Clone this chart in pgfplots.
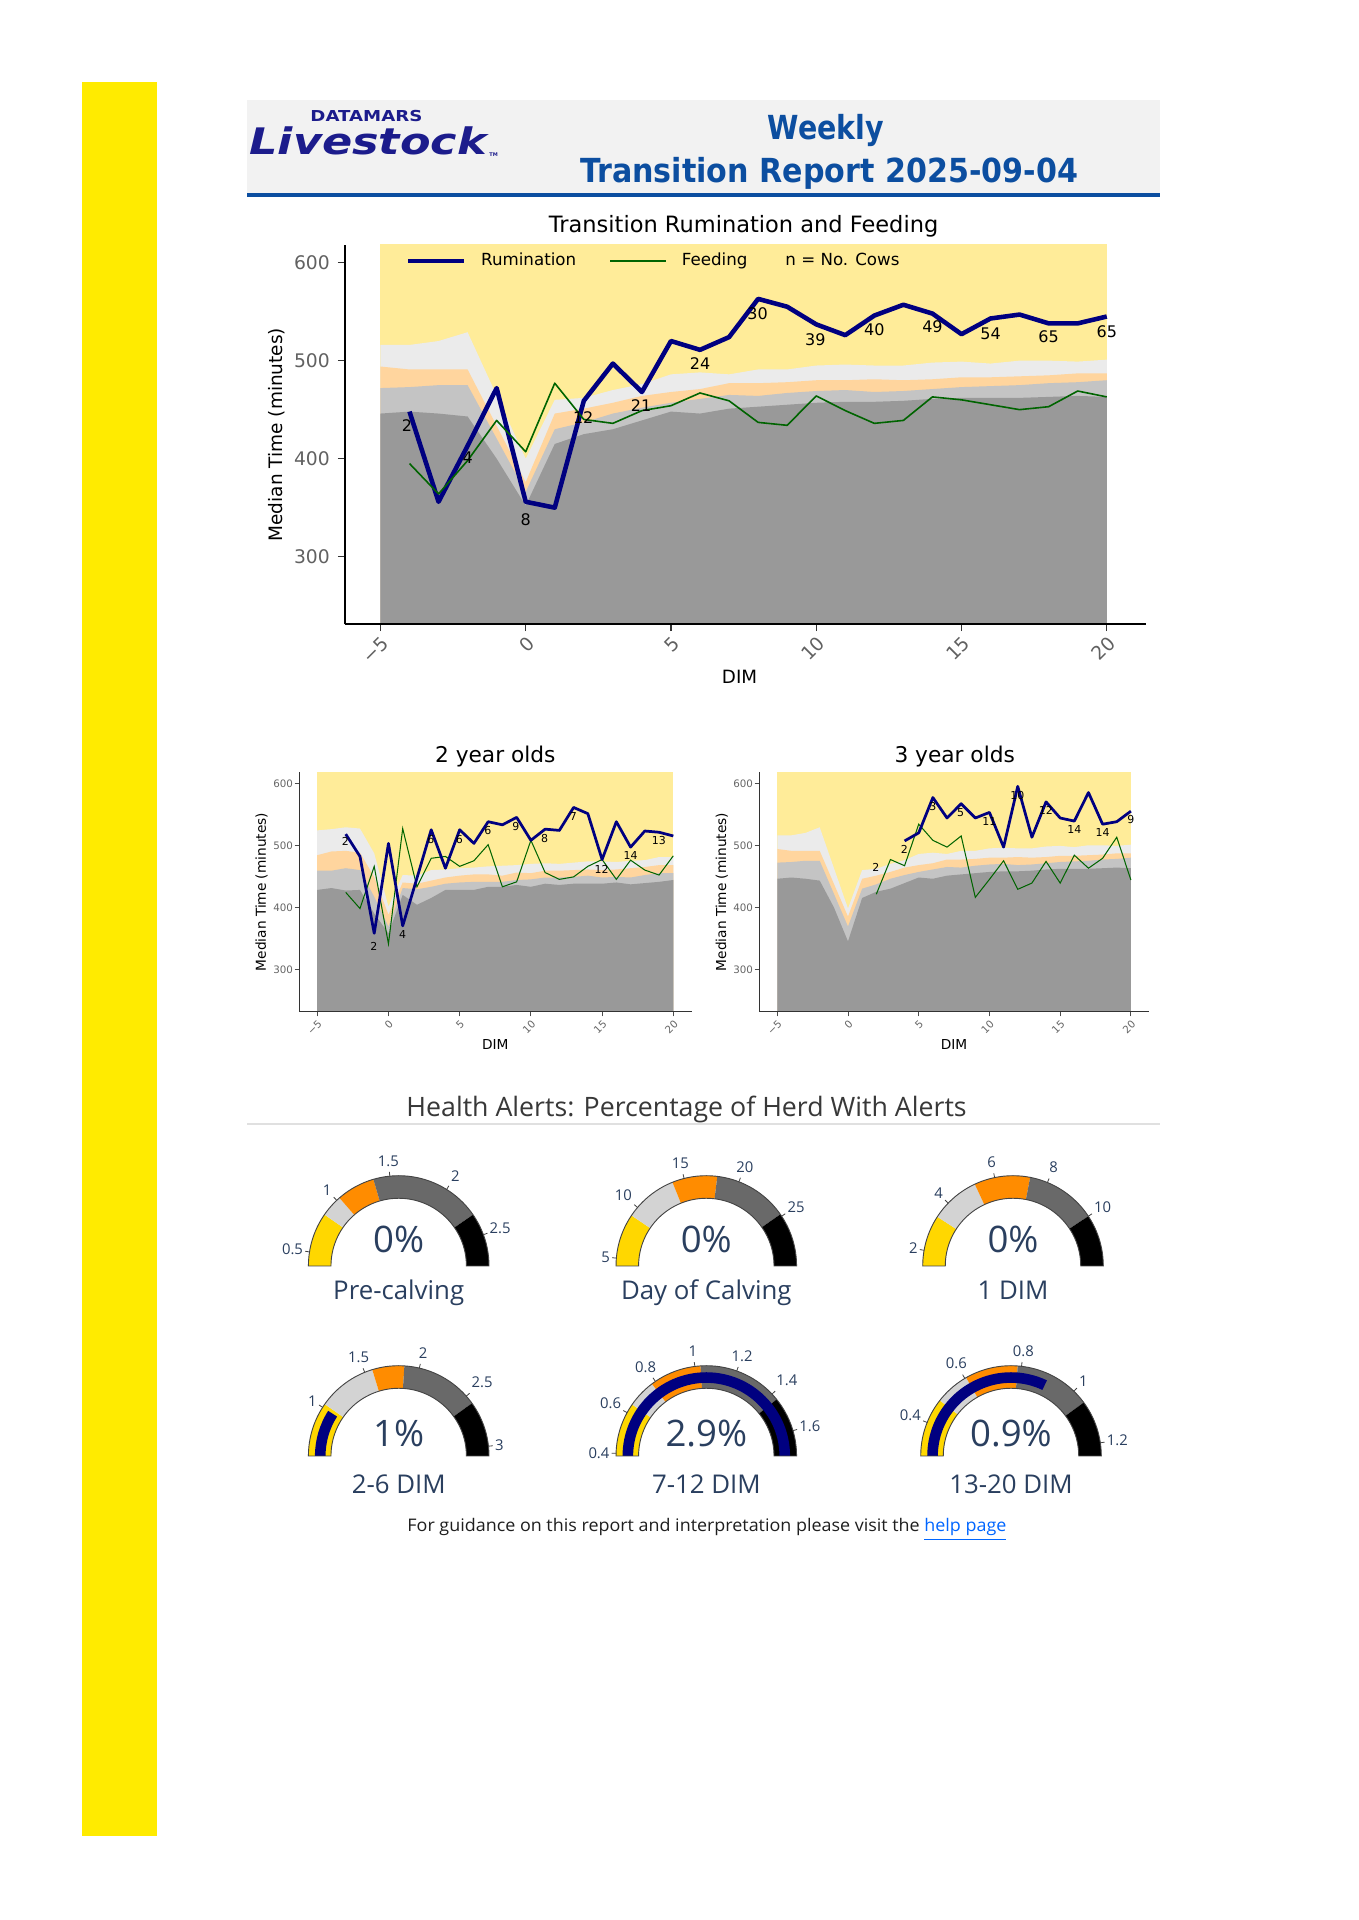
\documentclass[border=0pt]{standalone}
\usepackage{fontspec}
\usepackage{pgfplots}
\pgfplotsset{compat=1.18}
\setmainfont{DejaVu Sans}
\newfontfamily\os{Open Sans}
\definecolor{pageyellow}{RGB}{255,235,0}
\definecolor{hdrgray}{RGB}{242,242,242}
\definecolor{hdrblue}{RGB}{12,78,160}
\definecolor{logoblue}{RGB}{28,28,140}
\definecolor{bYel}{RGB}{255,236,153}
\definecolor{bLG}{RGB}{235,235,235}
\definecolor{bPeach}{RGB}{255,213,158}
\definecolor{bMG}{RGB}{196,196,196}
\definecolor{bDG}{RGB}{153,153,153}
\definecolor{rum}{RGB}{0,0,128}
\definecolor{feed}{RGB}{0,100,0}
\definecolor{plotlytxt}{HTML}{2A3F5F}
\definecolor{gGold}{HTML}{FFD700}
\definecolor{gLGray}{HTML}{D3D3D3}
\definecolor{gOrange}{HTML}{FF8C00}
\definecolor{gDim}{HTML}{696969}
\definecolor{gNavy}{HTML}{000080}
\definecolor{gOut}{HTML}{444444}
\definecolor{linkblue}{RGB}{0,102,255}
\def\U{0.4378pt}
\def\gRo{39.53pt}
\def\gRi{29.65pt}
\def\gRt{41.43pt}
\def\gBi{32.02pt}
\def\gBo{36.67pt}
\tikzset{nl/.style={font=\fontsize{4.8}{5}\selectfont, inner sep=0pt}}
\newcommand\gsector[5]{\fill[#5] (#1:#3) arc[start angle=#1, end angle=#2, radius=#3] -- (#2:#4) arc[start angle=#2, end angle=#1, radius=#4] -- cycle;}
\newcommand\gauge[9]{%
 \begin{scope}[shift={({#1*\U},{(1920-#2)*\U})}]
  \pgfmathsetmacro\gA{180*(#4-#5)/(#4-#3)}%
  \pgfmathsetmacro\gB{180*(#4-#6)/(#4-#3)}%
  \pgfmathsetmacro\gC{180*(#4-#7)/(#4-#3)}%
  \pgfmathsetmacro\gD{180*(#4-#8)/(#4-#3)}%
  \gsector{180}{\gA}{\gRo}{\gRi}{gGold}
  \gsector{\gA}{\gB}{\gRo}{\gRi}{gLGray}
  \gsector{\gB}{\gC}{\gRo}{\gRi}{gOrange}
  \gsector{\gC}{\gD}{\gRo}{\gRi}{gDim}
  \gsector{\gD}{0}{\gRo}{\gRi}{black}
  \pgfmathsetmacro\gE{max(0,180*(#4-#9)/(#4-#3))}%
  \pgfmathtruncatemacro\gShow{#9>#3}%
  \ifnum\gShow=1 \gsector{180}{\gE}{\gBo}{\gBi}{gNavy}\fi
  \draw[gOut, line width=0.4pt] (180:\gRo) arc[start angle=180,end angle=0,radius=\gRo] -- (0:\gRi) arc[start angle=0,end angle=180,radius=\gRi] -- cycle;
 \end{scope}}
\newcommand\gticks[5]{%
 \begin{scope}[shift={({#1*\U},{(1920-#2)*\U})}]
 \foreach \v in {#5}{%
   \pgfmathsetmacro\th{180*(#4-\v)/(#4-#3)}%
   \pgfmathsetmacro\an{\th+180}%
   \draw[gOut, line width=0.35pt] (\th:\gRo) -- (\th:\gRt);
   \node[anchor=\an, inner xsep=0.8pt, inner ysep=2.2pt, text=plotlytxt, font=\os\fontsize{6.5}{7}\selectfont] at (\th:\gRt) {\v};
 }
 \end{scope}}
\newcommand\gtext[4]{%
 \node[anchor=base, text=plotlytxt, font=\os\fontsize{16}{18}\selectfont, inner sep=0pt] at ({#1*\U},{(1920-#2)*\U}) {#3};
 \node[anchor=base, text=plotlytxt, font=\os\fontsize{11.3}{13}\selectfont, inner sep=0pt] at ({#1*\U},{(1920-#2-46.5)*\U}) {#4};}
\pgfplotsset{
 common/.style={
  scale only axis,
  axis x line*=bottom, axis y line*=left,
  axis on top,
  xtick={-5,0,5,10,15,20}, xticklabels={−5,0,5,10,15,20},
  ytick={300,400,500,600},
  tick align=outside,
  minor tick num=0,
  /pgf/number format/assume math mode=true,
  xticklabel style={rotate=45, anchor=north east},
  ylabel={Median Time (minutes)}, xlabel={DIM},
 },
 sub/.style={common,
  height=104.81pt, xmin=-6.26, xmax=21.29, ymin=231.6, ymax=617.7,
  axis line style={-, black!80, line width=0.5pt},
  major tick length=2pt, tick style={black!70, line width=0.4pt},
  ticklabel style={font=\fontsize{4.5}{5}\selectfont, text=black!60},
  xticklabel style={inner sep=0.8pt},
  yticklabel style={inner sep=0.6pt},
  ylabel style={at={(axis description cs:-0.096,0.5)}, anchor=center, font=\fontsize{6}{7}\selectfont},
  xlabel style={at={(axis description cs:0.4995,-0.139)}, anchor=center, font=\fontsize{6}{7}\selectfont},
 },
}
\begin{document}
\begin{tikzpicture}[x=\U, y=\U]
\fill[white] (0,0) rectangle (1359,1920);
\useasboundingbox (0,0) rectangle (1359,1920);
% side bar
\fill[pageyellow] (82,{1920-82}) rectangle (157,{1920-1836});
% header
\fill[hdrgray] (247,{1920-100}) rectangle (1160,{1920-193});
\fill[hdrblue] (247,{1920-193}) rectangle (1160,{1920-197.5});
\node[anchor=base west, inner sep=0pt, text=logoblue, font=\bfseries\fontsize{6.6}{7}\selectfont] at (310,{1920-121.7}) {\resizebox{49pt}{\height}{DATAMARS}};
\node[anchor=base west, inner sep=0pt, text=logoblue, font=\bfseries\itshape\fontsize{16}{18}\selectfont] at (249,{1920-155}) {\resizebox{104pt}{\height}{Livestock}};
\node[anchor=base west, inner sep=0pt, text=logoblue, font=\bfseries\fontsize{2.2}{3}\selectfont] at (489,{1920-157}) {TM};
\node[anchor=base, inner sep=0pt, text=hdrblue, font=\bfseries\fontsize{14.5}{16}\selectfont] at (826,{1920-140}) {\resizebox{50.9pt}{\height}{Weekly}};
\node[anchor=base, inner sep=0pt, text=hdrblue, font=\bfseries\fontsize{14.5}{16}\selectfont] at (829,{1920-183}) {\resizebox{218pt}{\height}{Transition Report 2025-09-04}};

% chart titles
\node[anchor=base, inner sep=0pt, font=\fontsize{9.85}{10}\selectfont] at (743.6,{1920-232.7}) {Transition Rumination and Feeding};
\node[anchor=base, inner sep=0pt, font=\fontsize{9.5}{10}\selectfont] at (495.3,{1920-762.7}) {2 year olds};
\node[anchor=base, inner sep=0pt, font=\fontsize{9.5}{10}\selectfont] at (954.7,{1920-762.7}) {3 year olds};

% main chart
\begin{axis}[common,
 at={({344.7*\U},{1295.7*\U})}, anchor=south west,
 width=350.68pt, height=166.06pt,
 xmin=-6.23, xmax=21.34, ymin=231, ymax=618,
 axis line style={-, black, line width=0.9pt},
 major tick length=3pt, tick style={black!80, line width=0.5pt},
 ticklabel style={font=\fontsize{8.2}{9}\selectfont, text=black!62},
 xticklabel style={inner sep=1pt},
 ylabel style={at={(axis description cs:-0.085,0.5)}, anchor=center, font=\fontsize{8.1}{9}\selectfont},
 xlabel style={at={(axis description cs:0.493,-0.139)}, anchor=center, font=\fontsize{8}{9}\selectfont},
 legend columns=3,
 legend image code/.code={\draw[#1] (0pt,0pt) -- (24.5pt,0pt); \path (29pt,0pt);},
 legend style={at={(axis description cs:0.0757,0.958)}, anchor=west, draw=none, fill=none, inner sep=0pt,
   font=\fontsize{7.3}{8}\selectfont, column sep=0pt,
   /tikz/every even column/.append style={column sep=12.6pt}},
]
\addplot[forget plot, draw=none, fill=bYel] coordinates {(-5,630) (20,630)} \closedcycle;
\addplot[forget plot, draw=none, fill=bLG] coordinates {(-5,516) (-4,516) (-3,520) (-2,529) (0,400) (1,460) (2,462) (3,470) (4,476) (5,486) (6,488) (7,486) (8,491) (9,491) (10,495) (11,496) (12,495) (13,495) (14,498) (15,499) (16,497) (17,500) (18,500) (19,499) (20,501)} \closedcycle;
\addplot[forget plot, draw=none, fill=bPeach] coordinates {(-5,494) (-4,491) (-3,491) (-2,491) (0,376) (1,446) (2,451) (3,457) (4,464) (5,468) (6,471) (7,477) (8,477) (9,478) (10,480) (11,480) (12,481) (13,480) (14,481) (15,483) (16,483) (17,484) (18,485) (19,487) (20,487)} \closedcycle;
\addplot[forget plot, draw=none, fill=bMG] coordinates {(-5,472) (-4,473) (-3,475) (-2,475) (0,366) (1,430) (2,437) (3,446) (4,452) (5,457) (6,461) (7,465) (8,464) (9,467) (10,469) (11,470) (12,468) (13,469) (14,471) (15,473) (16,474) (17,475) (18,477) (19,478) (20,480)} \closedcycle;
\addplot[forget plot, draw=none, fill=bDG] coordinates {(-5,446) (-4,448) (-3,446) (-2,443) (-1,400) (0,352) (1,415) (2,425) (3,430) (4,439) (5,448) (6,446) (7,451) (8,453) (9,455) (10,457) (11,458) (12,458) (13,459) (14,461) (15,462) (16,462) (17,462) (18,463) (19,464) (20,463)} \closedcycle;
\addplot[rum, line width=2pt, line join=round, no marks] coordinates {(-4,448) (-3,356) (-2,413) (-1,472) (0,356) (1,350) (2,459) (3,497) (4,468) (5,520) (6,511) (7,524) (8,563) (9,555) (10,537) (11,526) (12,546) (13,557) (14,548) (15,527) (16,543) (17,547) (18,538) (19,538) (20,545)};
\addlegendentry{Rumination}
\addplot[feed, line width=0.7pt, line join=round, no marks] coordinates {(-4,395) (-3,364) (-2,398) (-1,439) (0,407) (1,477) (2,440) (3,436) (4,449) (5,454) (6,467) (7,459) (8,437) (9,434) (10,464) (11,449) (12,436) (13,439) (14,463) (15,460) (16,455) (17,450) (18,453) (19,469) (20,463)};
\addlegendentry{Feeding}
\addlegendimage{empty legend}
\addlegendentry{n = No. Cows}
\begin{scope}[every node/.style={font=\fontsize{7}{8}\selectfont, inner sep=0pt}]
\node at (axis cs:-4.09,433.7) {2};
\node at (axis cs:-2.0,401.4) {4};
\node at (axis cs:0,338) {8};
\node at (axis cs:1.98,442) {12};
\node at (axis cs:3.97,454) {21};
\node at (axis cs:6.0,496.6) {24};
\node at (axis cs:7.98,548) {30};
\node at (axis cs:9.97,521) {39};
\node at (axis cs:12,532) {40};
\node at (axis cs:14,534.7) {49};
\node at (axis cs:16,527) {54};
\node at (axis cs:18,524.5) {65};
\node at (axis cs:20,530) {65};
\end{scope}
\end{axis}

% 2 year olds
\begin{axis}[sub,
 at={({299.3*\U},{908.3*\U})}, anchor=south west,
 width=171.79pt]
\addplot[draw=none, fill=bYel] coordinates {(-5,630) (20,630)} \closedcycle;
\addplot[draw=none, fill=bLG] coordinates {(-5,524) (-4,526) (-3,529) (-2,527) (-1,487) (0,401) (1,452) (2,451) (3,460) (4,461) (5,463) (6,464) (7,466) (8,467) (9,468) (10,470) (11,471) (12,470) (13,472) (14,474) (15,474) (16,473) (17,475) (18,476) (19,481) (20,481)} \closedcycle;
\addplot[draw=none, fill=bPeach] coordinates {(-5,484) (-4,490) (-3,491) (-2,488) (-1,449) (0,388) (1,440) (2,438) (3,443) (4,448) (5,451) (6,453) (7,453) (8,451) (9,456) (10,455) (11,459) (12,459) (13,460) (14,461) (15,460) (16,461) (17,463) (18,465) (19,468) (20,468)} \closedcycle;
\addplot[draw=none, fill=bMG] coordinates {(-5,459) (-4,459) (-3,463) (-2,460) (-1,417) (0,369) (1,431) (2,429) (3,433) (4,438) (5,440) (6,441) (7,441) (8,441) (9,444) (10,445) (11,448) (12,448) (13,449) (14,451) (15,448) (16,449) (17,448) (18,452) (19,455) (20,455)} \closedcycle;
\addplot[draw=none, fill=bDG] coordinates {(-5,428) (-4,431) (-3,427) (-2,428) (-1,390) (0,358) (1,420) (2,404) (3,415) (4,428) (5,428) (6,428) (7,433) (8,433) (9,436) (10,433) (11,438) (12,436) (13,438) (14,438) (15,438) (16,440) (17,437) (18,439) (19,441) (20,444)} \closedcycle;
\addplot[feed, line width=0.45pt, no marks] coordinates {(-3,424) (-2,398) (-1,466) (0,341) (1,527) (2,433) (3,479) (4,482) (5,466) (6,475) (7,501) (8,433) (9,441) (10,508) (11,456) (12,445) (13,449) (14,466) (15,477) (16,445) (17,476) (18,460) (19,452) (20,483)};
\addplot[rum, line width=1.2pt, line join=round, no marks] coordinates {(-3,518) (-2,482) (-1,358) (0,503) (1,370) (2,447) (3,525) (4,463) (5,525) (6,503) (7,538) (8,533) (9,545) (10,508) (11,526) (12,524) (13,561) (14,551) (15,477) (16,538) (17,497) (18,523) (19,521) (20,515)};
\node[nl] at (axis cs:-3.03,506) {2};
\node[nl] at (axis cs:-1.02,336.6) {2};
\node[nl] at (axis cs:0.99,356.5) {4};
\node[nl] at (axis cs:2.98,509.7) {6};
\node[nl] at (axis cs:4.97,509.7) {6};
\node[nl] at (axis cs:6.98,523.7) {6};
\node[nl] at (axis cs:8.95,531) {9};
\node[nl] at (axis cs:10.96,511) {8};
\node[nl] at (axis cs:12.98,547) {7};
\node[nl] at (axis cs:14.97,461) {12};
\node[nl] at (axis cs:17.0,482.8) {14};
\node[nl] at (axis cs:18.99,507) {13};
\end{axis}

% 3 year olds
\begin{axis}[sub,
 at={({759.3*\U},{908.3*\U})}, anchor=south west,
 width=170.74pt, xmin=-6.27, xmax=21.3]
\addplot[draw=none, fill=bYel] coordinates {(-5,630) (20,630)} \closedcycle;
\addplot[draw=none, fill=bLG] coordinates {(-5,516) (-4,516) (-3,520) (-2,529) (0,398) (1,460) (2,462) (3,470) (4,476) (5,486) (6,488) (7,486) (8,491) (9,491) (10,495) (11,496) (12,495) (13,495) (14,498) (15,499) (16,497) (17,500) (18,500) (19,499) (20,501)} \closedcycle;
\addplot[draw=none, fill=bPeach] coordinates {(-5,494) (-4,491) (-3,491) (-2,491) (0,385) (1,446) (2,451) (3,457) (4,464) (5,468) (6,471) (7,477) (8,477) (9,478) (10,480) (11,480) (12,481) (13,480) (14,481) (15,483) (16,483) (17,484) (18,485) (19,487) (20,487)} \closedcycle;
\addplot[draw=none, fill=bMG] coordinates {(-5,472) (-4,473) (-3,475) (-2,475) (0,369) (1,430) (2,437) (3,446) (4,452) (5,457) (6,461) (7,465) (8,464) (9,467) (10,469) (11,470) (12,468) (13,469) (14,471) (15,473) (16,474) (17,475) (18,477) (19,478) (20,480)} \closedcycle;
\addplot[draw=none, fill=bDG] coordinates {(-5,446) (-4,448) (-3,446) (-2,443) (-1,400) (0,345) (1,415) (2,425) (3,430) (4,439) (5,448) (6,446) (7,451) (8,453) (9,455) (10,457) (11,458) (12,458) (13,459) (14,461) (15,462) (16,462) (17,462) (18,463) (19,464) (20,463)} \closedcycle;
\addplot[feed, line width=0.45pt, no marks] coordinates {(2,421) (3,477) (4,467) (5,534) (6,508) (7,497) (8,515) (9,416) (10,445) (11,475) (12,429) (13,439) (14,474) (15,439) (16,484) (17,463) (18,479) (19,513) (20,444)};
\addplot[rum, line width=1.2pt, line join=round, no marks] coordinates {(4,507) (5,520) (6,577) (7,544) (8,567) (9,544) (10,553) (11,497) (12,595) (13,513) (14,570) (15,544) (16,539) (17,585) (18,534) (19,538) (20,555)};
\node[nl] at (axis cs:1.97,464.5) {2};
\node[nl] at (axis cs:3.98,492.5) {2};
\node[nl] at (axis cs:6.0,562) {3};
\node[nl] at (axis cs:7.96,552.7) {5};
\node[nl] at (axis cs:9.99,538) {11};
\node[nl] at (axis cs:11.97,581) {10};
\node[nl] at (axis cs:13.99,556) {12};
\node[nl] at (axis cs:16.0,526) {14};
\node[nl] at (axis cs:18.0,520.4) {14};
\node[nl] at (axis cs:20.0,541) {9};
\end{axis}

% health alerts
\node[anchor=base, inner sep=0pt, text=black!78, font=\os\fontsize{11.7}{13}\selectfont] at (686.6,{1920-1116.7}) {Health Alerts: Percentage of Herd With Alerts};
\draw[black!12, line width=0.5pt] (247,{1920-1124}) -- (1160,{1920-1124});

\gauge{398.7}{1266}{0.381}{2.769}{0.841}{1.031}{1.359}{2.310}{0}
\gticks{398.7}{1266}{0.381}{2.769}{0.5,1,1.5,2,2.5}
\gtext{398.7}{1253}{0\%}{Pre-calving}
\gauge{706.3}{1266}{4.29}{29.73}{9.10}{13.9}{18.0}{24.8}{0}
\gticks{706.3}{1266}{4.29}{29.73}{5,10,15,20,25}
\gtext{706.3}{1253}{0\%}{Day of Calving}
\gauge{1013}{1266}{1.414}{11.96}{3.35}{5.22}{7.33}{10.0}{0}
\gticks{1013}{1266}{1.414}{11.96}{2,4,6,8,10}
\gtext{1013}{1253}{0\%}{1 DIM}

\gauge{398.7}{1456}{0.538}{3.088}{1.034}{1.572}{1.864}{2.582}{1}
\gticks{398.7}{1456}{0.538}{3.088}{1,1.5,2,2.5,3}
\gtext{398.7}{1447}{1\%}{2-6 DIM}
\gauge{706.3}{1456}{0.3874}{1.7207}{0.645}{0.780}{1.027}{1.433}{2.9}
\gticks{706.3}{1456}{0.3874}{1.7207}{0.4,0.6,0.8,1,1.2,1.4,1.6}
\gtext{706.3}{1447}{2.9\%}{7-12 DIM}
\gauge{1011}{1456}{0.2836}{1.2449}{0.4865}{0.6052}{0.7869}{1.0508}{0.9}
\gticks{1011}{1456}{0.2836}{1.2449}{0.4,0.6,0.8,1,1.2}
\gtext{1011}{1447}{0.9\%}{13-20 DIM}

\node[anchor=base west, inner sep=0pt, text=black!88, font=\os\fontsize{7.6}{9}\selectfont] at (407,{1920-1531.7}) {\resizebox{262.2pt}{\height}{For guidance on this report and interpretation please visit the \textcolor{linkblue}{\underline{help page}}}};
\end{tikzpicture}
\end{document}
